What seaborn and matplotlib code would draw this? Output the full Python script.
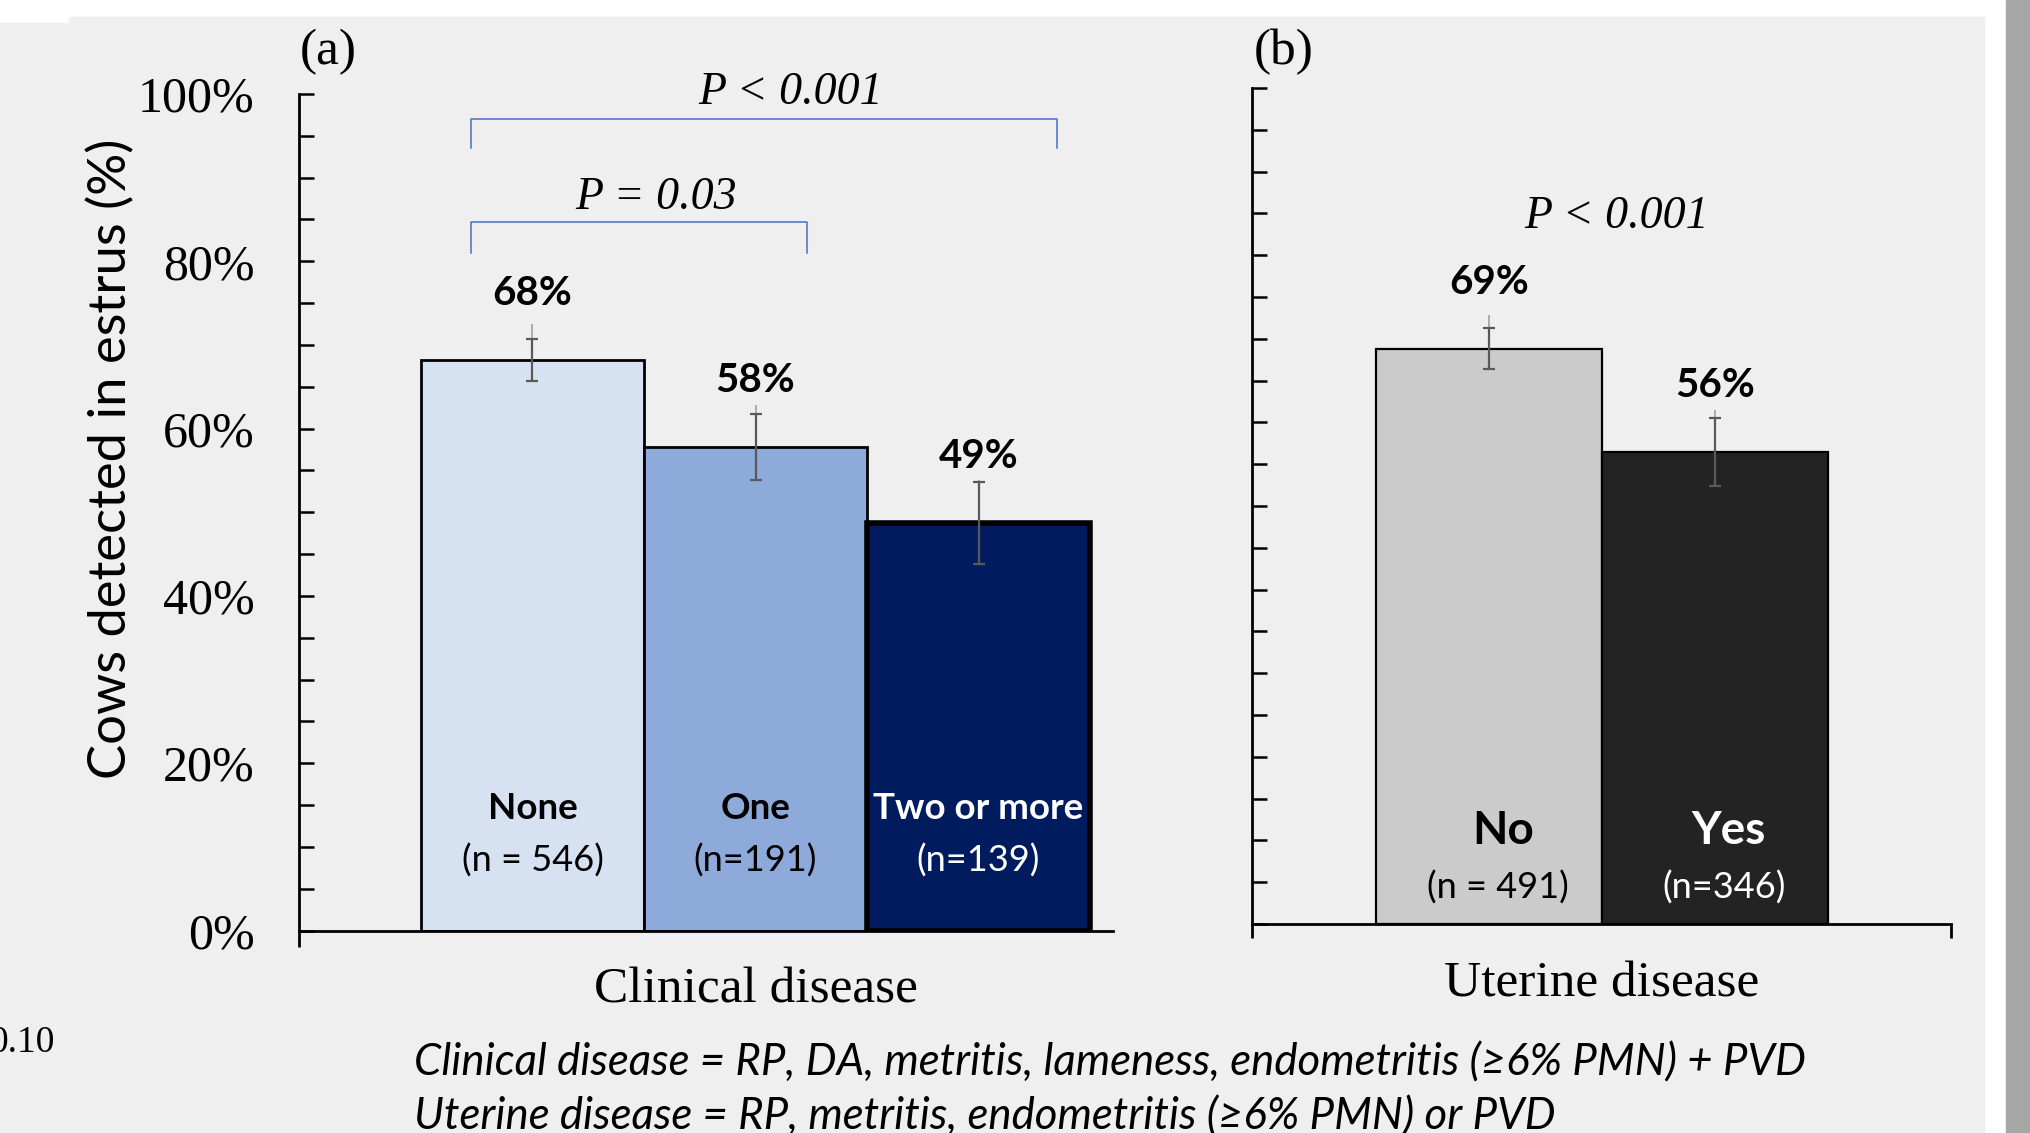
import matplotlib
matplotlib.use("Agg")
import matplotlib.pyplot as plt
import seaborn as sns
import pandas as pd
from matplotlib.patches import Rectangle

# data
clin_groups = ["None", "One", "Two or more"]
clin_n = ["(n = 546)", "(n=191)", "(n=139)"]
clin_pct = [68.2, 57.8, 48.7]
clin_err = [2.5, 4.0, 4.9]
clin_whisker = [72.5, 62.8, 53.9]
clin_labels = ["68%", "58%", "49%"]
clin_colors = ["#d6e1f2", "#8eaadb", "#001b5e"]

ut_groups = ["No", "Yes"]
ut_n = ["(n = 491)", "(n=346)"]
ut_pct = [68.8, 56.5]
ut_err = [2.45, 4.05]
ut_whisker = [72.8, 61.5]
ut_labels = ["69%", "56%"]
ut_colors = ["#cbcbcb", "#232323"]

yticks = [0, 20, 40, 60, 80, 100]

SERIF = "Liberation Serif"
SANS = ["Lato", "DejaVu Sans"]

W, H, DPI = 2030, 1133, 100


def fx(px):
    return px / W


def fy(py):
    return 1 - py / H


fig = plt.figure(figsize=(W / DPI, H / DPI), dpi=DPI, facecolor="white")

# page background like the slide screenshot
fig.patches.append(Rectangle((fx(69), fy(1133)), fx(1984) - fx(69), fy(17) - fy(1133),
                             transform=fig.transFigure, color="#efefef", zorder=-5))
fig.patches.append(Rectangle((0, fy(1133)), fx(69), fy(23) - fy(1133),
                             transform=fig.transFigure, color="#efefef", zorder=-5))
fig.patches.append(Rectangle((fx(2006), 0), 1 - fx(2006), 1,
                             transform=fig.transFigure, color="#a6a6a6", zorder=-5))

ax_a = fig.add_axes([fx(299), fy(930.5), (1113 - 299) / W, (930.5 - 94) / H])
ax_b = fig.add_axes([fx(1252), fy(924), (1951 - 1252) / W, (924 - 88) / H])


def draw_panel(ax, groups, pct, err, whisker, colors, edge_lw):
    df = pd.DataFrame({"group": groups, "pct": pct})
    sns.barplot(data=df, x="group", y="pct", hue="group", palette=colors,
                width=1, saturation=1, edgecolor="black", linewidth=2,
                errorbar=None, legend=False, ax=ax)
    for p, lw in zip(ax.patches, edge_lw):
        p.set_linewidth(lw)
    xs = [p.get_x() + p.get_width() / 2 for p in ax.patches]
    ax.vlines(xs, pct, whisker, color="#a0a0a0", lw=1.2, zorder=3)
    ax.errorbar(xs, pct, yerr=err, fmt="none", ecolor="#595959",
                elinewidth=1.6, capsize=4.5, capthick=1.6, zorder=4)
    ax.set_facecolor("none")
    ax.set_ylim(0, 100)
    ax.set_yticks(yticks)
    ax.set_yticks(range(0, 101, 5), minor=True)
    ax.tick_params(axis="y", which="both", direction="in", length=11, width=1.8)
    for s in ["top", "right"]:
        ax.spines[s].set_visible(False)
    for s in ["left", "bottom"]:
        ax.spines[s].set_linewidth(2)
        ax.spines[s].set_color("black")
    ax.set_xlabel("")
    ax.set_ylabel("")
    return xs


# (a) clinical disease
xa = draw_panel(ax_a, clin_groups, clin_pct, clin_err, clin_whisker, clin_colors, [2, 2, 4])
ax_a.set_xlim(-1.047, 2.603)
ax_a.set_xticks([-1.047])
ax_a.set_xticklabels([""])
ax_a.tick_params(axis="x", direction="out", length=11.5, width=2)
ax_a.set_yticklabels([f"{v}%" for v in yticks], family=SERIF, fontsize=36)
ax_a.tick_params(axis="y", pad=32)

for x, v, lab in zip(xa, clin_pct, clin_labels):
    ax_a.text(x, v + 8.0, lab, ha="center", va="center", family=SANS,
              fontweight="bold", fontsize=29)
for x, g, n, c in zip(xa, clin_groups, clin_n, ["black", "black", "white"]):
    ax_a.text(x, 14.6, g, ha="center", va="center", family=SANS,
              fontweight="bold", fontsize=26.5, color=c)
    ax_a.text(x, 8.4, n, ha="center", va="center", family=SANS,
              fontsize=26, color=c)

# significance brackets
br = "#4472c4"
ax_a.plot([-0.274, -0.274, 2.354, 2.354], [93.5, 97.0, 97.0, 93.5], color=br, lw=1.1, clip_on=False)
ax_a.plot([-0.274, -0.274, 1.233, 1.233], [81.0, 84.7, 84.7, 81.0], color=br, lw=1.1, clip_on=False)
ax_a.text(1.157, 100.2, "P < 0.001", ha="center", va="center", family=SERIF,
          style="italic", fontsize=33, clip_on=False)
ax_a.text(0.556, 87.6, "P = 0.03", ha="center", va="center", family=SERIF,
          style="italic", fontsize=33)
ax_a.text(sum(xa) / len(xa), -0.071, "Clinical disease", transform=ax_a.get_xaxis_transform(),
          ha="center", va="center", family=SERIF, fontsize=37)

# (b) uterine disease
xb = draw_panel(ax_b, ut_groups, ut_pct, ut_err, ut_whisker, ut_colors, [1.6, 1.6])
ax_b.set_xlim(-1.049, 2.044)
ax_b.set_xticks([-1.049, 2.044])
ax_b.set_xticklabels(["", ""])
ax_b.tick_params(axis="x", direction="out", length=10, width=2)
ax_b.set_yticklabels([])

for x, v, lab in zip(xb, ut_pct, ut_labels):
    ax_b.text(x, v + 7.9, lab, ha="center", va="center", family=SANS,
              fontweight="bold", fontsize=29)
for x, g, n, c in zip(xb, ut_groups, ut_n, ["black", "white"]):
    ax_b.text(x + 0.06, 11.1, g, ha="center", va="center", family=SANS,
              fontweight="bold", fontsize=33, color=c)
    ax_b.text(x + 0.04, 4.4, n, ha="center", va="center", family=SANS,
              fontsize=26, color=c)

ax_b.text(0.562, 84.6, "P < 0.001", ha="center", va="center", family=SERIF,
          style="italic", fontsize=33)
ax_b.text(sum(xb) / len(xb), -0.072, "Uterine disease", transform=ax_b.get_xaxis_transform(),
          ha="center", va="center", family=SERIF, fontsize=37)

# figure-level text
fig.text(fx(111), fy(459), "Cows detected in estrus (%)", rotation=90,
         ha="center", va="center", family=SANS, fontsize=37.8)
fig.text(fx(328), fy(52), "(a)", ha="center", va="center", family=SERIF, fontsize=37)
fig.text(fx(1284), fy(52), "(b)", ha="center", va="center", family=SERIF, fontsize=37)
fig.text(fx(55), fy(1043), "0.10", ha="right", va="center", family=SERIF, fontsize=27)
fig.text(fx(414), fy(1063),
         "Clinical disease = RP, DA, metritis, lameness, endometritis (\u22656% PMN) + PVD",
         ha="left", va="center", family=SANS, style="italic", fontsize=31.5)
fig.text(fx(414), fy(1117),
         "Uterine disease = RP, metritis, endometritis (\u22656% PMN) or PVD",
         ha="left", va="center", family=SANS, style="italic", fontsize=31.5)

fig.savefig("out.png", dpi=DPI, facecolor=fig.get_facecolor())
